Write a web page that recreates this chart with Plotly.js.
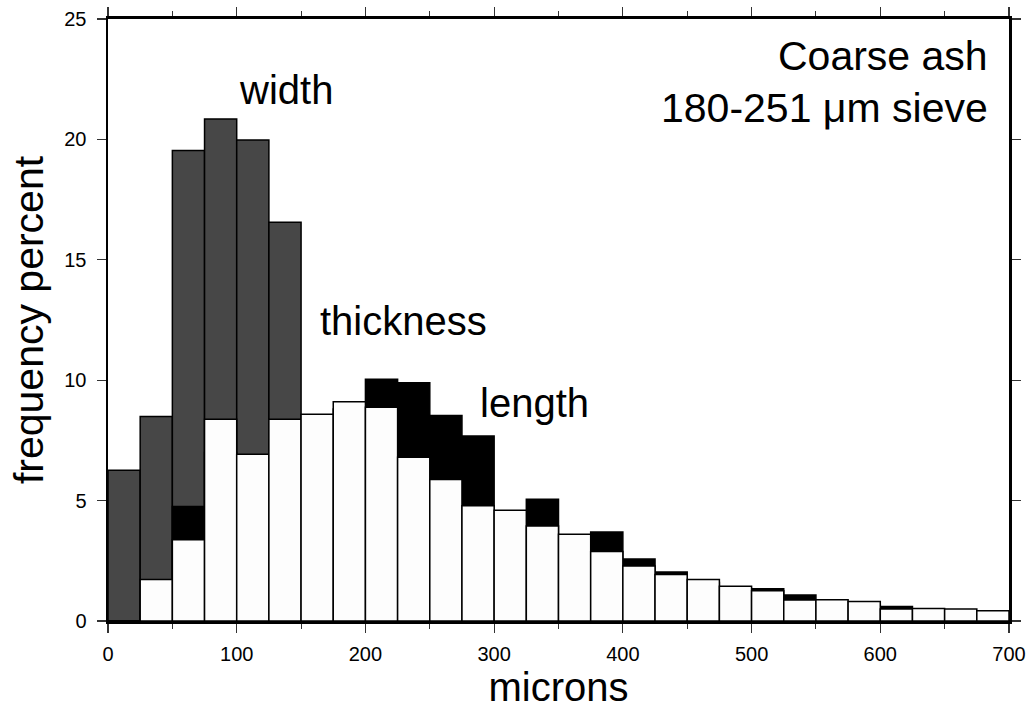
<!DOCTYPE html>
<html>
<head>
<meta charset="utf-8">
<script src="https://cdn.plot.ly/plotly-3.0.1.min.js"></script>
<style>html,body{margin:0;padding:0;background:#fff;}#chart{width:1034px;height:709px;}</style>
</head>
<body>
<div id="chart"></div>
<script>
// bin centres (25-micron bins from 0 to 700)
const binCenters = [12.5,37.5,62.5,87.5,112.5,137.5,162.5,187.5,212.5,237.5,262.5,287.5,312.5,337.5,362.5,387.5,412.5,437.5,462.5,487.5,512.5,537.5,562.5,587.5,612.5,637.5,662.5,687.5];
// width (dark grey, drawn first)
const widthPct = [6.26,8.49,19.54,20.85,19.98,16.56,6.0,4.0,2.5,1.5,1.0,0.6,0.4,0.3,0.2,0.1,0.1,0.05,0,0,0,0,0,0,0,0,0,0];
// length (black, drawn second)
const lengthPct = [0,0.4,4.75,7.0,6.5,7.5,8.0,8.8,10.04,9.89,8.53,7.68,4.3,5.06,3.3,3.7,2.57,2.03,1.6,1.35,1.34,1.08,0.8,0.7,0.6,0.45,0.4,0.35];
// thickness (white, drawn on top)
const thicknessPct = [0,1.72,3.37,8.38,6.93,8.38,8.59,9.11,8.88,6.80,5.88,4.79,4.60,3.95,3.60,2.89,2.28,1.93,1.72,1.44,1.26,0.87,0.88,0.81,0.50,0.52,0.50,0.43];
const xTickVals = [0,100,200,300,400,500,600,700];
const yTickVals = [0,5,10,15,20,25];

const FONT = '"Liberation Sans", Arial, Helvetica, sans-serif';
const outline = {color:'#000', width:1.5};
function barTrace(name, y, fill){
  return {type:'bar', name:name, x:binCenters, y:y, width:25,
    marker:{color:fill, line:outline}, hoverinfo:'x+y'};
}
const data = [
  barTrace('width', widthPct, '#474747'),
  barTrace('length', lengthPct, '#000000'),
  barTrace('thickness', thicknessPct, '#fdfdfd')
];

const layout = {
  width:1034, height:709,
  margin:{l:108, r:25, t:19, b:88},
  paper_bgcolor:'#fff', plot_bgcolor:'#fff',
  barmode:'overlay', bargap:0, showlegend:false,
  font:{family:FONT, color:'#000'},
  xaxis:{
    range:[0,700], tickvals:xTickVals, ticks:'outside', ticklen:9, tickwidth:1.2, tickcolor:'#333',
    minor:{dtick:50, ticks:'outside', ticklen:5, tickwidth:1, tickcolor:'#333'},
    showline:true, linecolor:'#000', linewidth:3, mirror:'ticks',
    showgrid:false, zeroline:false,
    tickfont:{size:20, family:FONT}, ticklabelstandoff:4,
    title:{text:'microns', font:{size:40, family:FONT}, standoff:6}
  },
  yaxis:{
    range:[0,25], tickvals:yTickVals, ticks:'outside', ticklen:9, tickwidth:1.2, tickcolor:'#333',
    showline:true, linecolor:'#000', linewidth:2.5, mirror:'ticks',
    showgrid:false, zeroline:false,
    tickfont:{size:20, family:FONT}, ticklabelstandoff:6,
    title:{text:'frequency percent', font:{size:41, family:FONT}, standoff:8}
  },
  annotations:[
    {text:'width', x:100, y:22.05, xref:'x', yref:'y', xanchor:'left', yanchor:'middle', showarrow:false, font:{size:40, family:FONT}},
    {text:'thickness', x:163, y:12.45, xref:'x', yref:'y', xanchor:'left', yanchor:'middle', showarrow:false, font:{size:40, family:FONT}},
    {text:'length', x:287.5, y:9.05, xref:'x', yref:'y', xanchor:'left', yanchor:'middle', showarrow:false, font:{size:40, family:FONT}},
    {text:'Coarse ash', x:685, y:23.45, xref:'x', yref:'y', xanchor:'right', yanchor:'middle', showarrow:false, font:{size:41, family:FONT}},
    {text:'180-251 μm sieve', x:685, y:21.3, xref:'x', yref:'y', xanchor:'right', yanchor:'middle', showarrow:false, font:{size:41, family:FONT}}
  ]
};
Plotly.newPlot('chart', data, layout, {displayModeBar:false, staticPlot:true});
</script>
</body>
</html>
